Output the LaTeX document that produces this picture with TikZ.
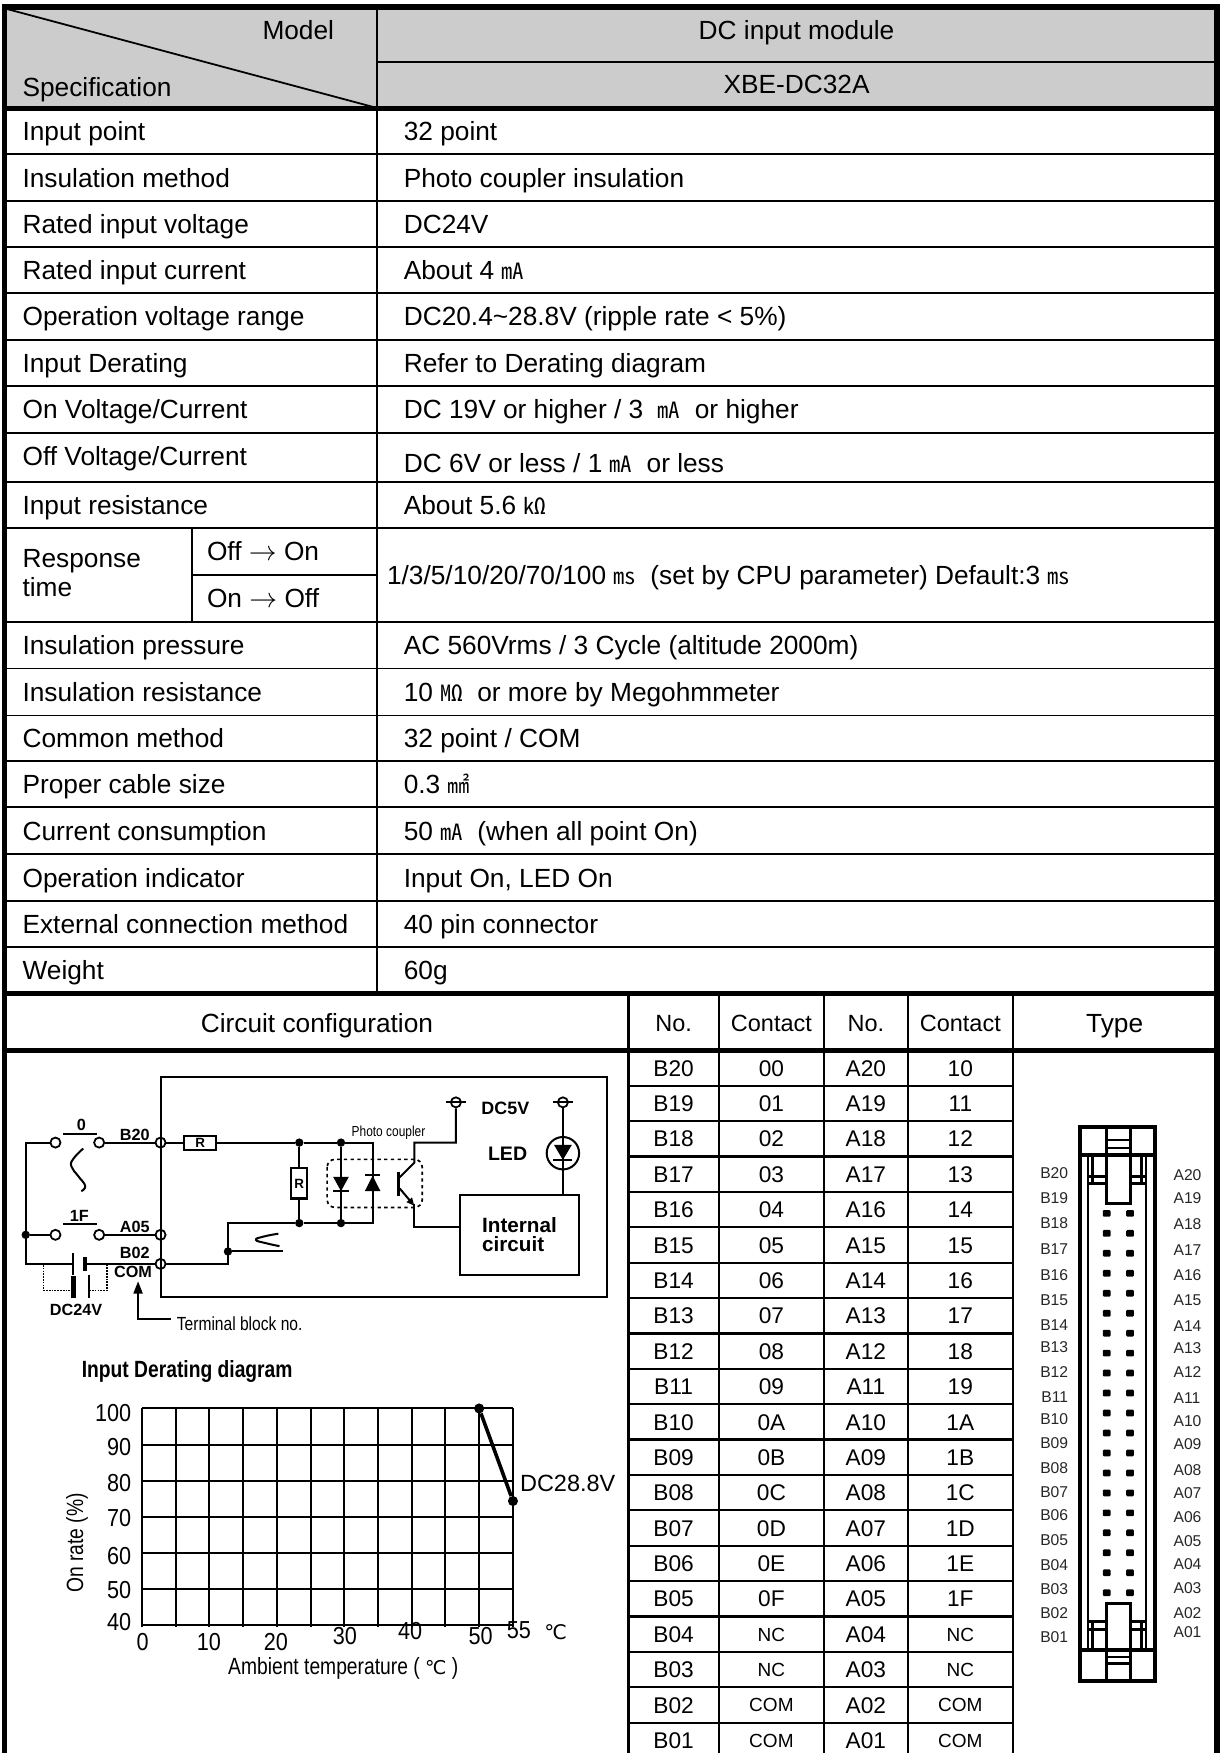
\documentclass[tikz,border=0pt]{standalone}
\usepackage{fontspec}
\setmainfont{Liberation Sans}
\newfontfamily\narrowfont[FakeStretch=0.82]{Liberation Sans}
\newfontfamily\numfont[FakeStretch=0.88]{Liberation Sans}
\newfontfamily\cjkfont{Noto Sans CJK KR}
\newfontfamily\djv{DejaVu Sans}
\usetikzlibrary{arrows.meta}
\newcommand\fs[1]{\fontsize{#1}{#1}\selectfont}
\newcommand\uni[1]{{\cjkfont\fontsize{20}{20}\selectfont #1}}
\newcommand\degc{{\djv ℃}}
\tikzset{
  outer/.style={line width=5},
  thickln/.style={line width=4.5},
  thinln/.style={line width=1.6},
  colln/.style={line width=2.2},
  rowln/.style={line width=2},
  lt/.style={anchor=base west, inner sep=0, font=\fs{23.5}},
  ct/.style={anchor=base, inner sep=0, font=\fs{23.5}},
  hc/.style={anchor=base, inner sep=0, font=\fs{21}},
  tc/.style={anchor=base, inner sep=0, font=\fs{20.3}},
  tcs/.style={anchor=base, inner sep=0, font=\fs{17}},
  wire/.style={line width=1.8},
  term/.style={circle, draw, line width=1.6, minimum size=9, inner sep=0},
  jdot/.style={circle, fill, minimum size=7.5, inner sep=0},
  rbox/.style={draw, line width=1.8, inner sep=0, font=\bfseries\fs{12}},
  blab/.style={inner sep=0, font=\bfseries\fs{14.5}},
  gridln/.style={line width=1.8},
  cdot/.style={circle, fill, minimum size=9, inner sep=0},
  axnum/.style={inner sep=0, font=\numfont\fs{22}},
  pinlab/.style={inner sep=0, font=\fs{14}, text=black!85},
}
\begin{document}
\begin{tikzpicture}[x=1pt,y=-1pt]
\useasboundingbox (0,0) rectangle (1091.3,1568);
% header background
\fill[gray!40] (4,6) rectangle (1088.5,97);
% ---------- table lines ----------
\draw[thinln] (6,8) -- (335,96);
\draw[thinln] (337,55.5) -- (1088.5,55.5);
\draw[colln] (337,6) -- (337,889);
\foreach \yy in {138,180,221,262,304,345,387,431,472,556,598,640,681,722,764,806,847}
  \draw[thinln] (4,\yy) -- (1088.5,\yy);
\draw[thinln] (172,472) -- (172,556);
\draw[thinln] (172,514) -- (337,514);
\draw[thickln] (4,97) -- (1088.5,97);
\draw[thickln] (4,889) -- (1088.5,889);
\draw[thickln] (4,940) -- (1088.5,940);
\foreach \xx in {562,643,737,812,906}
  \draw[colln] (\xx,889) -- (\xx,1575);
\foreach \k in {1,...,19}
  \draw[rowln] (562,{939.5+31.65*\k}) -- (906,{939.5+31.65*\k});
\draw[outer] (4,1580) -- (4,6) -- (1088.5,6) -- (1088.5,1580);
% ---------- header text ----------
\node[anchor=base east, inner sep=0, font=\fs{23.5}] (hmodel) at (299,35.4) {Model};
\node[lt] (hspec) at (20,86.4) {Specification};
\node[ct] (hdc) at (712.5,35.4) {DC input module};
\node[ct] (hxbe) at (712.5,83.9) {XBE-DC32A};
% ---------- spec rows ----------
\node[lt] (l1) at (20,125.9) {Input point};
\node[lt] (l2) at (20,167.4) {Insulation method};
\node[lt] (l3) at (20,208.9) {Rated input voltage};
\node[lt] (l4) at (20,249.9) {Rated input current};
\node[lt] (l5) at (20,291.4) {Operation voltage range};
\node[lt] (l6) at (20,332.9) {Input Derating};
\node[lt] (l7) at (20,374.4) {On Voltage/Current};
\node[lt] (l8) at (20,416.4) {Off Voltage/Current};
\node[lt] (l9) at (20,459.9) {Input resistance};
\node[lt] (l10a) at (20,507.4) {Response};
\node[lt] (l10b) at (20,533.4) {time};
\node[lt] (l10c) at (185,501.4) {Off $\rightarrow$ On};
\node[lt] (l10d) at (185,543.4) {On $\rightarrow$ Off};
\node[lt] (l11) at (20,585.4) {Insulation pressure};
\node[lt] (l12) at (20,627.4) {Insulation resistance};
\node[lt] (l13) at (20,668.9) {Common method};
\node[lt] (l14) at (20,709.9) {Proper cable size};
\node[lt] (l15) at (20,751.4) {Current consumption};
\node[lt] (l16) at (20,793.4) {Operation indicator};
\node[lt] (l17) at (20,834.9) {External connection method};
\node[lt] (l18) at (20,876.4) {Weight};
\node[lt] (v1) at (361,125.9) {32 point};
\node[lt] (v2) at (361,167.4) {Photo coupler insulation};
\node[lt] (v3) at (361,208.9) {DC24V};
\node[lt] (v4) at (361,249.9) {About 4 \uni{㎃}};
\node[lt] (v5) at (361,291.4) {DC20.4\textasciitilde 28.8V (ripple rate < 5\%)};
\node[lt] (v6) at (361,332.9) {Refer to Derating diagram};
\node[lt] (v7) at (361,374.4) {DC 19V or higher / 3 \ \uni{㎃} \ or higher};
\node[lt] (v8) at (361,422.4) {DC 6V or less / 1 \uni{㎃} \ or less};
\node[lt] (v9) at (361,459.9) {About 5.6 \uni{㏀}};
\node[lt] (v10) at (346,522.4) {1/3/5/10/20/70/100 \uni{㎳} \ (set by CPU parameter) Default:3 \uni{㎳}};
\node[lt] (v11) at (361,585.4) {AC 560Vrms / 3 Cycle (altitude 2000m)};
\node[lt] (v12) at (361,627.4) {10 \uni{㏁} \ or more by Megohmmeter};
\node[lt] (v13) at (361,668.9) {32 point / COM};
\node[lt] (v14) at (361,709.9) {0.3 \uni{㎟}};
\node[lt] (v15) at (361,751.4) {50 \uni{㎃} \ (when all point On)};
\node[lt] (v16) at (361,793.4) {Input On, LED On};
\node[lt] (v17) at (361,834.9) {40 pin connector};
\node[lt] (v18) at (361,876.4) {60g};
% ---------- lower header ----------
\node[ct] (hcc) at (283.5,923.4) {Circuit configuration};
\node[hc] (hno1) at (602.5,922.5) {No.};
\node[hc] (hct1) at (690,922.5) {Contact};
\node[hc] (hno2) at (774.5,922.5) {No.};
\node[hc] (hct2) at (859,922.5) {Contact};
\node[ct] (htype) at (997,923.4) {Type};
% ---------- contact table ----------
\foreach \k/\num/\hx in {0/20/0,1/19/1,2/18/2,3/17/3,4/16/4,5/15/5,6/14/6,7/13/7,8/12/8,9/11/9,10/10/A,11/09/B,12/08/C,13/07/D,14/06/E,15/05/F}{
  \pgfmathsetmacro\yb{939.5+31.65*(\k+0.5)+7.3}
  \node[tc] (nb\k) at (602.5,\yb) {B\num};
  \node[tc] (cb\k) at (690,\yb) {0\hx};
  \node[tc] (na\k) at (774.5,\yb) {A\num};
  \node[tc] (ca\k) at (859,\yb) {1\hx};
}
\foreach \k/\num/\txt in {16/04/NC,17/03/NC,18/02/COM,19/01/COM}{
  \pgfmathsetmacro\yb{939.5+31.65*(\k+0.5)+7.3}
  \pgfmathsetmacro\ys{939.5+31.65*(\k+0.5)+6.1}
  \node[tc] (nb\k) at (602.5,\yb) {B\num};
  \node[tcs] (cb\k) at (690,\ys) {\txt};
  \node[tc] (na\k) at (774.5,\yb) {A\num};
  \node[tcs] (ca\k) at (859,\ys) {\txt};
}
% ---------- connector drawing (Type) ----------
\draw[line width=3.6] (965.8,1008.1) rectangle (1032.8,1503.4);
\draw[line width=3] (964,1033.2) -- (1034.6,1033.2);
\draw[line width=3] (964,1476) -- (1034.6,1476);
\draw[line width=3] (990,1006.3) -- (990,1033.2);
\draw[line width=3] (1011,1006.3) -- (1011,1033.2);
\draw[line width=3] (990,1476) -- (990,1505.2);
\draw[line width=3] (1011,1476) -- (1011,1505.2);
\draw[line width=2] (990,1020) -- (1011,1020);
\draw[line width=2] (990,1027) -- (1011,1027);
\draw[line width=2] (990,1482) -- (1011,1482);
\draw[line width=2] (990,1488) -- (1011,1488);
\draw[line width=3] (990,1033.2) rectangle (1011,1076.4);
\draw[line width=3] (990,1434.2) rectangle (1011,1476);
\draw[line width=1.5] (973.4,1033.2) -- (973.4,1476);
\draw[line width=1.5] (1025.2,1033.2) -- (1025.2,1476);
\draw[line width=2.8] (977.2,1033.2) -- (977.2,1058.4);
\draw[line width=2.8] (1021.4,1033.2) -- (1021.4,1058.4);
\draw[line width=2.8] (977.2,1450.6) -- (977.2,1476);
\draw[line width=2.8] (1021.4,1450.6) -- (1021.4,1476);
\foreach \yy in {1052.5,1058.4,1450.6,1457.5}{
  \draw[line width=2.4] (973.4,\yy) -- (990,\yy);
  \draw[line width=2.4] (1011,\yy) -- (1025.2,\yy);
}
\foreach \r in {0,...,19}{
  \fill[rounded corners=1] ({986.4},{1082.3+\r*17.86}) rectangle +(7,6);
  \fill[rounded corners=1] ({1007.3},{1082.3+\r*17.86}) rectangle +(7,6);
}
\foreach \num/\yy in {20/1049.5,19/1071.9,18/1094.3,17/1117.5,16/1140.5,15/1162.9,14/1185.2,13/1204.6,12/1227,11/1249.4,10/1269.2,09/1291,08/1313.4,07/1334.3,06/1355.2,05/1377.5,04/1399.9,03/1421.6,02/1443.1,01/1464.6}
  \node[pinlab, anchor=east] (pb\num) at (955.6,\yy) {B\num};
\foreach \num/\yy in {20/1051,19/1071.9,18/1095.2,17/1118.1,16/1140.5,15/1162.9,14/1186.1,13/1206.1,12/1227,11/1250.8,10/1271.1,09/1291.9,08/1314.9,07/1335.2,06/1356.7,05/1378.4,04/1399.3,03/1420.4,02/1443.1,01/1460.1}
  \node[pinlab, anchor=west] (pa\num) at (1049.5,\yy) {A\num};
% ---------- circuit ----------
\draw[wire] (143.6,963) rectangle (543,1160);
\node[term] (tB20) at (143.6,1022) {};
\node[term] (tA05) at (143.6,1104.5) {};
\node[term] (tB02) at (143.6,1130.5) {};
\node[term] (s0a) at (49.6,1022) {};
\node[term] (s0b) at (88.7,1022) {};
\node[term] (s1a) at (49.6,1104.5) {};
\node[term] (s1b) at (88.7,1104.5) {};
\draw[wire] (56.7,1014.7) -- (86.9,1014.7);
\draw[wire] (56.7,1095) -- (86.9,1095);
\node[blab, anchor=base] (lab0) at (72.7,1011.5) {0};
\node[blab, anchor=base] (lab1F) at (71,1092.4) {1F};
\draw[wire] plot[smooth, tension=0.8] coordinates {(74.5,1027.3) (66,1036) (63.8,1043.2) (70,1052) (76.2,1060.7) (72.7,1065.4)};
\node[jdot] (j1) at (23,1104.5) {};
\coordinate (lt) at (23,1022);
\coordinate (lb) at (23,1130.5);
\coordinate (batL) at (65.6,1130.5);
\coordinate (batR) at (76.2,1130.5);
\draw[wire] (s0a) -- (lt) -- (lb) -- (batL);
\draw[wire] (j1) -- (s1a);
\draw[wire] (s0b) -- (tB20);
\draw[wire] (s1b) -- (tA05);
\draw[line width=1.8] (65.6,1121) -- (65.6,1140);
\draw[line width=4] (76.2,1124.2) -- (76.2,1136.9);
\draw[wire] (batR) -- (tB02);
\draw[densely dotted, line width=1.5] (39,1131.5) -- (39,1154.3) -- (63.8,1154.3);
\draw[line width=4] (65.6,1141) -- (65.6,1160.7);
\draw[line width=1.5] (79.8,1140) -- (79.8,1160.7);
\draw[densely dotted, line width=1.5] (79.8,1154.3) -- (95.7,1154.3) -- (95.7,1131.5);
\node[blab, anchor=base] (lB20) at (120.6,1020) {B20};
\node[blab, anchor=base] (lA05) at (120.6,1102.5) {A05};
\node[blab, anchor=base] (lB02) at (120.6,1125.8) {B02};
\node[blab, anchor=base] (lCOM) at (119,1143) {COM};
\node[blab, anchor=base] (lDC24) at (68,1177) {DC24V};
\node[inner sep=0, anchor=west, font=\narrowfont\fs{17}] (tbn) at (158,1183.6) {Terminal block no.};
\coordinate (tbend) at (153,1180);
\coordinate (tbcor) at (123.5,1180);
\coordinate (tbtip) at (123.5,1146);
\draw[wire, -{Triangle[length=11,width=8]}] (tbend) -- (tbcor) -- (tbtip);
% inside the module
\node[rbox, minimum width=28.4, minimum height=12.5] (R1) at (179.1,1022) {R};
\node[rbox, minimum width=14, minimum height=27] (R2) at (267.7,1058.5) {R};
\node[jdot] (j2) at (267.7,1022) {};
\node[jdot] (j3) at (305,1022) {};
\node[jdot] (j4) at (305,1094) {};
\node[jdot] (j5) at (267.7,1094) {};
\coordinate (c1) at (333.3,1022);
\coordinate (c2) at (333.3,1094);
\coordinate (c3) at (203.9,1094);
\coordinate (c4) at (203.9,1130.5);
\draw[wire] (tB20) -- (R1.west);
\draw[wire] (R1.east) -- (j2) -- (j3) -- (c1) -- (c2) -- (j4) -- (j5) -- (c3) -- (c4) -- (tB02);
\draw[wire] (j2) -- (R2.north);
\draw[wire] (R2.south) -- (j5);
\draw[wire] (j3) -- (j4);
\fill (298,1052.7) -- (312,1052.7) -- (305,1065.4) -- cycle;
\draw[wire] (298,1065.4) -- (312,1065.4);
\fill (326.3,1065.4) -- (340.3,1065.4) -- (333.3,1051.7) -- cycle;
\draw[wire] (326.3,1051.2) -- (340.3,1051.2);
\draw[dashed, line width=1.5, rounded corners=7] (292.6,1037) rectangle (377.7,1080);
\node[inner sep=0, font=\narrowfont\fs{13}] (lpc) at (347.5,1013) {Photo coupler};
% transistor
\draw[line width=3] (356.4,1048) -- (356.4,1070);
\node[term] (tDC5) at (407.8,986) {};
\draw[wire] (399,986) -- (416.6,986);
\coordinate (col1) at (370.6,1040);
\coordinate (col2) at (370.6,1022);
\coordinate (col3) at (407.8,1022);
\draw[wire] (357.5,1053) -- (col1) -- (col2) -- (col3) -- (tDC5.south);
\draw[wire, -{Triangle[length=7,width=6]}] (357.5,1063) -- (370.6,1078.5);
\node[draw, line width=1.8, minimum width=106.7, minimum height=71.4, inner sep=0, align=left, font=\bfseries\fs{18.5}] (IC) at (464.65,1104.3) {Internal\\[-2pt]circuit};
\coordinate (em1) at (370.6,1077);
\coordinate (em2) at (370.6,1097.2);
\draw[wire] (em1) -- (em2) -- (em2 -| IC.west);
\node[blab, font=\bfseries\fs{16}] (lDC5) at (452,991) {DC5V};
% LED
\node[term] (tLED) at (503.5,986) {};
\draw[wire] (494.7,986) -- (512.3,986);
\node[circle, draw, line width=1.8, minimum size=29, inner sep=0] (LEDc) at (503.5,1031.5) {};
\draw[wire] (tLED) -- (LEDc);
\draw[wire] (LEDc) -- (LEDc |- IC.north);
\draw[wire] (503.5,1017) -- (503.5,1046);
\fill (495.5,1024) -- (511.5,1024) -- (503.5,1037.5) -- cycle;
\draw[wire] (495,1038) -- (512,1038);
\node[blab, font=\bfseries\fs{17.5}] (lLED) at (454,1032) {LED};
% internal switch
\node[jdot] (j6) at (203.9,1119.4) {};
\coordinate (sw6) at (253.5,1119.4);
\draw[wire] (j6) -- (sw6);
\draw[wire] plot[smooth, tension=0.9] coordinates {(249,1103.5) (236,1106) (229,1109) (238,1112) (250,1114.6)};
% ---------- derating chart ----------
\node[inner sep=0, anchor=west, font=\narrowfont\bfseries\fs{21}] (ttl) at (73,1227) {Input Derating diagram};
\foreach \i in {0,...,11}
  \draw[gridln] ({127+\i*30.16},1259.8) -- ({127+\i*30.16},1455);
\foreach \j in {0,...,6}
  \draw[gridln] (127,{1259.8+\j*32.3}) -- (458.8,{1259.8+\j*32.3});
\node[cdot] (d1) at (428.6,1259.8) {};
\node[cdot] (d2) at (458.8,1342.6) {};
\draw[line width=3.2] (d1) -- (d2);
\node[inner sep=0, anchor=west, font=\fs{21}] (ldc) at (465,1326.8) {DC28.8V};
\foreach \v/\yy in {100/1264.2,90/1294,80/1326.8,70/1358.1,60/1391.8,50/1422.2,40/1450.5}
  \node[axnum, anchor=east] (ya\v) at (117.5,\yy) {\v};
\foreach \v/\xx/\yy in {0/127.7/1468.5,10/186.9/1468.5,20/246.7/1468.5,30/308.4/1463,40/366.8/1458.5,50/430/1463,55/464.2/1458.5}
  \node[axnum] (xa\v) at (\xx,\yy) {\v};
\node[inner sep=0, font=\fs{18}] (xdeg) at (497,1460) {\degc};
\node[inner sep=0, rotate=90, font=\narrowfont\fs{21}] (yttl) at (69,1380) {On rate (\%)};
\node[inner sep=0, font=\narrowfont\fs{21}] (xttl) at (307,1492) {Ambient temperature ( {\fs{17}\degc} )};
\end{tikzpicture}
\end{document}
